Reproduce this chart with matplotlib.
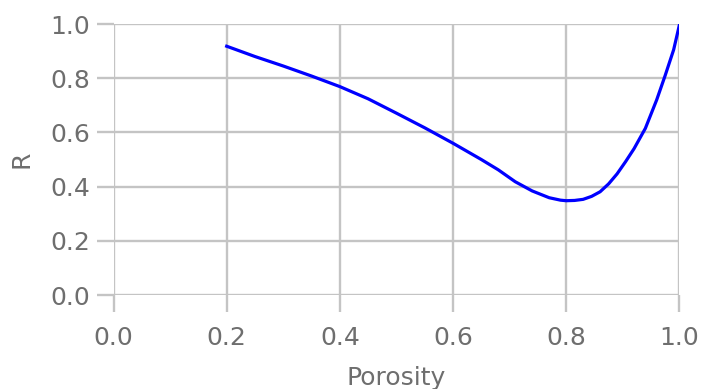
import matplotlib
matplotlib.use("Agg")
import matplotlib.pyplot as plt

# values
porosity = [0.20, 0.25, 0.30, 0.35, 0.40, 0.45, 0.50, 0.55, 0.60, 0.65,
            0.68, 0.71, 0.74, 0.77, 0.79, 0.80, 0.815, 0.83, 0.845, 0.86,
            0.875, 0.89, 0.905, 0.92, 0.94, 0.96, 0.975, 0.99, 1.00]
R = [0.918, 0.880, 0.845, 0.808, 0.769, 0.724, 0.671, 0.617, 0.560, 0.500,
     0.462, 0.418, 0.384, 0.359, 0.350, 0.348, 0.349, 0.353, 0.364, 0.381,
     0.410, 0.447, 0.492, 0.540, 0.615, 0.720, 0.810, 0.905, 0.995]

xticks = [0.0, 0.2, 0.4, 0.6, 0.8, 1.0]
yticks = [0.0, 0.2, 0.4, 0.6, 0.8, 1.0]

gridcol = '#c4c4c4'
txtcol = '#6e6e6e'

fig = plt.figure(figsize=(7.03, 3.89), dpi=100)
ax = fig.add_axes([0.1615, 0.2416, 0.8048, 0.6967])

ax.plot(porosity, R, color='#0000ff', linewidth=2.3, zorder=3)

ax.set_xlim(0, 1)
ax.set_ylim(0, 1)
ax.set_xticks(xticks)
ax.set_yticks(yticks)
ax.set_xticklabels(['%.1f' % v for v in xticks])
ax.set_yticklabels(['%.1f' % v for v in yticks])

for s in ax.spines.values():
    s.set_visible(False)
ax.grid(True, color=gridcol, linewidth=1.7)
ax.tick_params(axis='both', color=gridcol, width=1.7, length=12,
               labelsize=18, labelcolor=txtcol)
ax.tick_params(axis='x', pad=10)
ax.tick_params(axis='y', pad=5)

ax.set_xlabel('Porosity', fontsize=18, color=txtcol, labelpad=12)
ax.set_ylabel('R', fontsize=18, color=txtcol, labelpad=12)

plt.savefig('out.png', dpi=100)
